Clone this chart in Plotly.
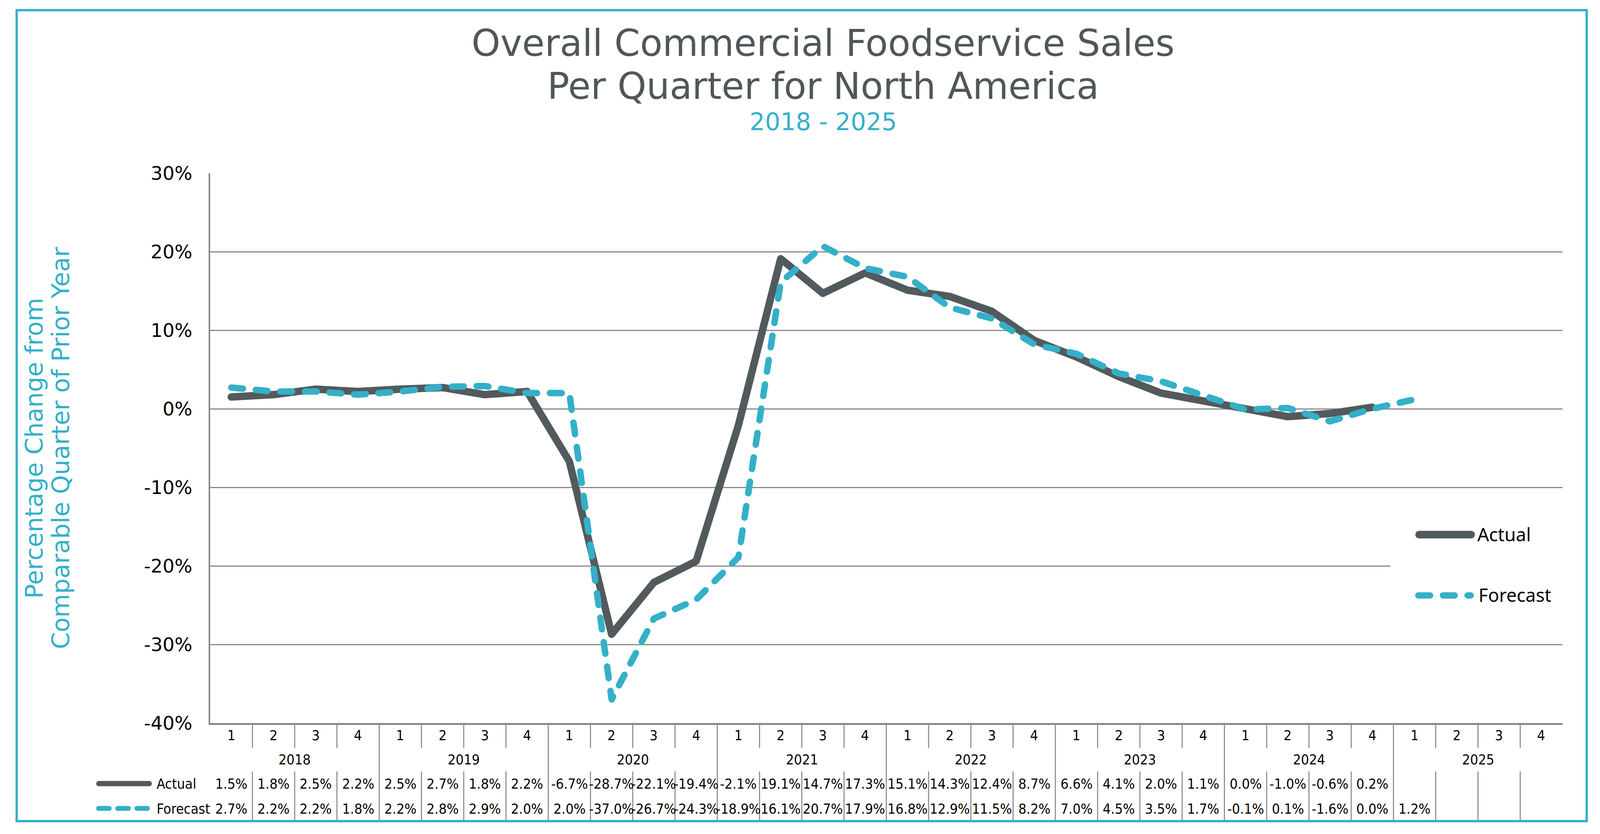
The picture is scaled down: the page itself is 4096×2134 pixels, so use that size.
import plotly.graph_objects as go

# ---------------- data ----------------
years = [2018, 2019, 2020, 2021, 2022, 2023, 2024, 2025]
quarters = [1, 2, 3, 4]
actual = [1.5, 1.8, 2.5, 2.2, 2.5, 2.7, 1.8, 2.2,
          -6.7, -28.7, -22.1, -19.4, -2.1, 19.1, 14.7, 17.3,
          15.1, 14.3, 12.4, 8.7, 6.6, 4.1, 2.0, 1.1,
          0.0, -1.0, -0.6, 0.2]
forecast = [2.7, 2.2, 2.2, 1.8, 2.2, 2.8, 2.9, 2.0,
            2.0, -37.0, -26.7, -24.3, -18.9, 16.1, 20.7, 17.9,
            16.8, 12.9, 11.5, 8.2, 7.0, 4.5, 3.5, 1.7,
            -0.1, 0.1, -1.6, 0.0, 1.2]
y_ticks = [30, 20, 10, 0, -10, -20, -30, -40]
title_lines = ["Overall Commercial Foodservice Sales", "Per Quarter for North America"]
subtitle = "2018 - 2025"
y_title_lines = ["Percentage Change from", "Comparable Quarter of Prior Year"]

# ---------------- style ----------------
GRAY = "#525A5D"
TEAL = "#34B0C8"
GRID = "#898989"
TITLE_C = "#4F5759"
GEO = "'DejaVu Sans', Lato, sans-serif"
NARROW = "'Liberation Sans Narrow', 'Arial Narrow', 'DejaVu Sans Condensed', sans-serif"
HUMAN = "'Noto Sans', 'Open Sans', sans-serif"
TBL = 36

W, H = 4096, 2134
L, R, T, B = 538, 4000, 443, 1850


def px(x):
    return (x - L) / (R - L)


def py(y):
    return (B - y) / (B - T)


nq = len(years) * len(quarters)
qlabels = [q for _ in years for q in quarters]

fig = go.Figure()
fig.add_trace(go.Scatter(x=list(range(len(actual))), y=actual, mode="lines",
                         line=dict(color=GRAY, width=19), name="Actual",
                         hoverinfo="skip"))
fig.add_trace(go.Scatter(x=list(range(len(forecast))), y=forecast, mode="lines",
                         line=dict(color=TEAL, width=16.5, dash="30px,33px"),
                         name="Forecast", hoverinfo="skip"))

shapes = []
annotations = []

# outer teal border
shapes.append(dict(type="rect", xref="paper", yref="paper",
                   x0=px(42.7), x1=px(4062), y0=py(25.9), y1=py(2101),
                   line=dict(color=TEAL, width=6), fillcolor="rgba(0,0,0,0)",
                   layer="above"))
# legend background (hides part of a gridline)
shapes.append(dict(type="rect", xref="paper", yref="y",
                   x0=px(3560), x1=1.0, y0=-27, y1=-13,
                   line=dict(width=0), fillcolor="white", layer="above"))

# table dividers
for i in range(1, nq):
    xd = i - 0.5
    if i % 4 == 0:
        segs = [(1851, 2099)]
    else:
        segs = [(1851, 1913), (1975, 2099)]
    for a, b in segs:
        shapes.append(dict(type="line", xref="x", yref="paper",
                           x0=xd, x1=xd, y0=py(a), y1=py(b),
                           line=dict(color=GRID, width=2.7)))

# table keys
shapes.append(dict(type="line", xref="paper", yref="paper",
                   x0=px(253), x1=px(382), y0=py(2005), y1=py(2005),
                   line=dict(color=GRAY, width=13.6)))
shapes.append(dict(type="line", xref="paper", yref="paper",
                   x0=px(252.5), x1=px(377.5), y0=py(2068.5), y1=py(2068.5),
                   line=dict(color=TEAL, width=12.7, dash="27px,22px")))

# main legend keys
shapes.append(dict(type="line", xref="paper", yref="paper",
                   x0=px(3633), x1=px(3766), y0=py(1368), y1=py(1368),
                   line=dict(color=GRAY, width=19.7)))
shapes.append(dict(type="line", xref="paper", yref="paper",
                   x0=px(3631), x1=px(3765), y0=py(1523.6), y1=py(1523.6),
                   line=dict(color=TEAL, width=16.3, dash="30px,33px")))


def ann(text, x, y, size, color, family, xref="paper", yref="paper",
        xanchor="center", angle=0):
    annotations.append(dict(text=text, x=x, y=y, xref=xref, yref=yref,
                            xanchor=xanchor, yanchor="middle", showarrow=False,
                            textangle=angle, borderpad=0,
                            font=dict(size=size, color=color, family=family)))


# titles
ann(title_lines[0], px(2107), py(111), 94, TITLE_C, GEO)
ann(title_lines[1], px(2107), py(220.4), 94, TITLE_C, GEO)
ann(subtitle, px(2107), py(311.5), 62, TEAL, GEO)

# y-axis title (two rotated lines)
ann(y_title_lines[0], px(87.9), py(1146.8), 62, TEAL, GEO, angle=-90)
ann(y_title_lines[1], px(155.7), py(1146.4), 62, TEAL, GEO, angle=-90)

# table: quarter row, year row, values
for i, q in enumerate(qlabels):
    ann(str(q), i, py(1881.4), TBL, "black", NARROW, xref="x")
for k, yr in enumerate(years):
    ann(str(yr), 4 * k + 1.5, py(1943), TBL, "black", NARROW, xref="x")
for i, v in enumerate(actual):
    ann(f"{v:.1f}%", i, py(2005.5), TBL, "black", NARROW, xref="x")
for i, v in enumerate(forecast):
    ann(f"{v:.1f}%", i, py(2069), TBL, "black", NARROW, xref="x")

ann("Actual", px(399.5), py(2005.5), TBL, "black", NARROW, xanchor="left")
ann("Forecast", px(399.5), py(2069), TBL, "black", NARROW, xanchor="left")

# main legend text
ann("Actual", px(3781), py(1367), 47, "black", HUMAN, xanchor="left")
ann("Forecast", px(3783.5), py(1522), 47, "black", HUMAN, xanchor="left")

fig.update_layout(
    width=W, height=H,
    margin=dict(l=L, r=W - R, t=T, b=H - B, pad=0),
    paper_bgcolor="white", plot_bgcolor="white",
    showlegend=False,
    shapes=shapes, annotations=annotations,
    xaxis=dict(range=[-0.5, nq - 0.5], showgrid=False, zeroline=False,
               showticklabels=False, ticks="", showline=True,
               linecolor=GRID, linewidth=4.5, fixedrange=True),
    yaxis=dict(range=[-40, 30], tickvals=y_ticks,
               ticktext=[f"{v}%" for v in y_ticks],
               showgrid=True, gridcolor=GRID, gridwidth=2.7, zeroline=False,
               showline=True, linecolor=GRID, linewidth=4, ticks="",
               ticklabelstandoff=32,
               tickfont=dict(family=GEO, size=48, color="black"),
               fixedrange=True),
)

js = ("var s=document.createElement('style');"
      "s.innerHTML='.scatterlayer path.js-line{stroke-linecap:round;stroke-linejoin:round;}"
      " .shapelayer path{stroke-linecap:round;}';"
      "document.head.appendChild(s);"
      "document.body.style.margin='0';document.body.style.overflow='hidden';")

fig.write_html("out.html", post_script=js, config={"displayModeBar": False})
